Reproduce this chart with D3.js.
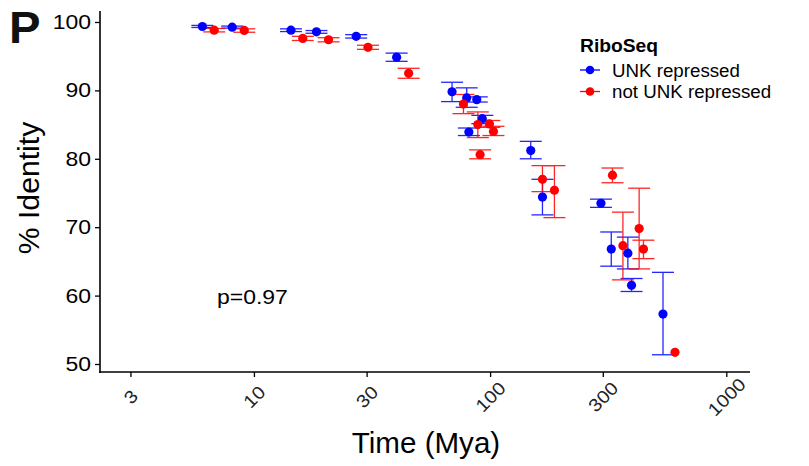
<!DOCTYPE html>
<html><head><meta charset="utf-8">
<script src="https://cdn.jsdelivr.net/npm/d3@7"></script>
<style>body{margin:0;background:#fff}svg{display:block}text{font-family:"Liberation Sans",Arial,sans-serif}</style>
</head><body><svg id="c" width="809" height="466"></svg>
<script>
const xTicks = [3, 10, 30, 100, 300, 1000];
const yTicks = [50, 60, 70, 80, 90, 100];
const seriesNames = ["UNK repressed", "not UNK repressed"];
const seriesColors = ["blue", "red"];
// UNK repressed: time (Mya), identity, lower, upper
const blueTime = [6.05, 8.09, 14.35, 18.4, 27.1, 40.2, 69.0, 79.6, 87.8, 92.7, 81.3, 148.6, 166.6, 294.6, 325.8, 383, 397, 539.5];
const blueId   = [99.34, 99.24, 98.8, 98.56, 97.9, 94.85, 89.8, 88.9, 88.65, 85.87, 83.9, 81.2, 74.4, 73.5, 66.8, 66.2, 61.5, 57.3];
const blueLo   = [99.2, 99.1, 98.6, 98.35, 97.65, 94.25, 88.36, 87.53, 88.3, 85.14, 83.4, 80.0, 71.8, 72.9, 64.3, 63.9, 60.6, 51.35];
const blueHi   = [99.5, 99.4, 99.0, 98.75, 98.15, 95.45, 91.19, 90.37, 89.05, 86.35, 84.5, 82.55, 77.0, 74.1, 69.3, 68.55, 62.5, 63.4];
// not UNK repressed
const redTime = [6.79, 9.1, 16.1, 20.7, 30.4, 45.2, 77.1, 88.7, 99.3, 103.3, 90.7, 166.6, 187.2, 329.7, 365, 427.6, 446, 606.5];
const redId   = [98.8, 98.76, 97.6, 97.4, 96.3, 92.5, 88.0, 85.0, 85.1, 84.0, 80.6, 77.0, 75.4, 77.6, 67.3, 69.8, 66.8, 51.7];
const redLo   = [98.55, 98.5, 97.3, 97.1, 96.0, 91.77, 86.6, 83.1, 84.6, 83.4, 80.0, 75.2, 71.4, 76.5, 62.3, 63.9, 65.4, 51.7];
const redHi   = [99.05, 99.0, 97.9, 97.7, 96.6, 93.23, 89.4, 86.85, 85.6, 84.75, 81.3, 79.0, 79.0, 78.65, 72.2, 75.7, 68.1, 51.7];
const pLabel = "p=0.97";
const panelLabel = "P";

const svg = d3.select("#c");
const x = d3.scaleLog().domain([2.23, 1260]).range([100, 750]);
const y = d3.scaleLinear().domain([48.83, 101.46]).range([372, 12]);
const SX = 1.12; // horizontal glyph stretch seen in the reference

const series = [
  {name: seriesNames[0], color: seriesColors[0], t: blueTime, v: blueId, lo: blueLo, hi: blueHi},
  {name: seriesNames[1], color: seriesColors[1], t: redTime, v: redId, lo: redLo, hi: redHi}
];

// error bars
const cap = 11;
series.forEach(s => {
  const g = svg.append("g").attr("stroke", s.color).attr("stroke-width", 1.3).attr("opacity", 0.85).attr("fill", "none");
  s.t.forEach((t, i) => {
    if (s.hi[i] - s.lo[i] <= 0) return;
    const cx = x(t);
    g.append("line").attr("x1", cx).attr("x2", cx).attr("y1", y(s.lo[i])).attr("y2", y(s.hi[i]));
    g.append("line").attr("x1", cx - cap).attr("x2", cx + cap).attr("y1", y(s.lo[i])).attr("y2", y(s.lo[i]));
    g.append("line").attr("x1", cx - cap).attr("x2", cx + cap).attr("y1", y(s.hi[i])).attr("y2", y(s.hi[i]));
  });
});
// points
series.forEach(s => {
  svg.append("g").selectAll("circle").data(s.t).join("circle")
    .attr("cx", d => x(d)).attr("cy", (d, i) => y(s.v[i])).attr("r", 4.6).attr("fill", s.color);
});

// axes
const yAxis = svg.append("g").attr("transform", "translate(100,0)")
  .call(d3.axisLeft(y).tickValues(yTicks).tickSize(5).tickPadding(4));
yAxis.select(".domain").remove();
yAxis.selectAll(".tick line").attr("stroke-width", 1.3);
yAxis.selectAll(".tick text").attr("font-size", 20.5).attr("fill", "#000")
  .attr("font-family", "Liberation Sans, Arial, sans-serif")
  .attr("x", null).attr("transform", `translate(-9,0) scale(${SX},1)`);

const xAxis = svg.append("g").attr("transform", "translate(0,372)")
  .call(d3.axisBottom(x).tickValues(xTicks).tickSize(5).tickFormat(d3.format("d")));
xAxis.select(".domain").remove();
xAxis.selectAll(".tick line").attr("stroke-width", 1.3);
xAxis.selectAll(".tick text")
  .attr("font-size", 18).attr("fill", "#222").attr("font-family", "Liberation Sans, Arial, sans-serif")
  .attr("text-anchor", "middle").attr("dy", null).attr("y", 0)
  .attr("dominant-baseline", "central")
  .attr("transform", `translate(0,25) rotate(-45) scale(${SX},1)`);

svg.append("line").attr("x1", 100).attr("x2", 100).attr("y1", 11).attr("y2", 373).attr("stroke", "#000").attr("stroke-width", 1.6);
svg.append("line").attr("x1", 99.2).attr("x2", 750).attr("y1", 372).attr("y2", 372).attr("stroke", "#000").attr("stroke-width", 1.6);

function stext(px, py, size, str, opts = {}) {
  const t = svg.append("text")
    .attr("transform", `translate(${px},${py})${opts.rot ? " rotate(" + opts.rot + ")" : ""} scale(${opts.sx || SX},1)`)
    .attr("font-size", size).text(str);
  if (opts.anchor) t.attr("text-anchor", opts.anchor);
  if (opts.bold) t.attr("font-weight", "bold");
  if (opts.fill) t.attr("fill", opts.fill);
  return t;
}

// titles
stext(426, 453, 29, "Time (Mya)", {anchor: "middle", sx: 1.02});
stext(39, 188, 29, "% Identity", {anchor: "middle", rot: -90, sx: 1.04});
stext(9, 43, 45, panelLabel, {bold: true, fill: "#111", sx: 1.05});
stext(217, 304, 20.5, pLabel);

// legend
stext(580, 52, 18.5, "RiboSeq", {bold: true, sx: 1.04});
series.forEach((s, i) => {
  const ly = 70 + i * 21.5;
  svg.append("line").attr("x1", 580).attr("x2", 600).attr("y1", ly).attr("y2", ly).attr("stroke", s.color).attr("stroke-width", 1.3);
  svg.append("circle").attr("cx", 590).attr("cy", ly).attr("r", 4.3).attr("fill", s.color);
  stext(612, ly + 6.5, 18, s.name, {sx: 1.04});
});
</script></body></html>
